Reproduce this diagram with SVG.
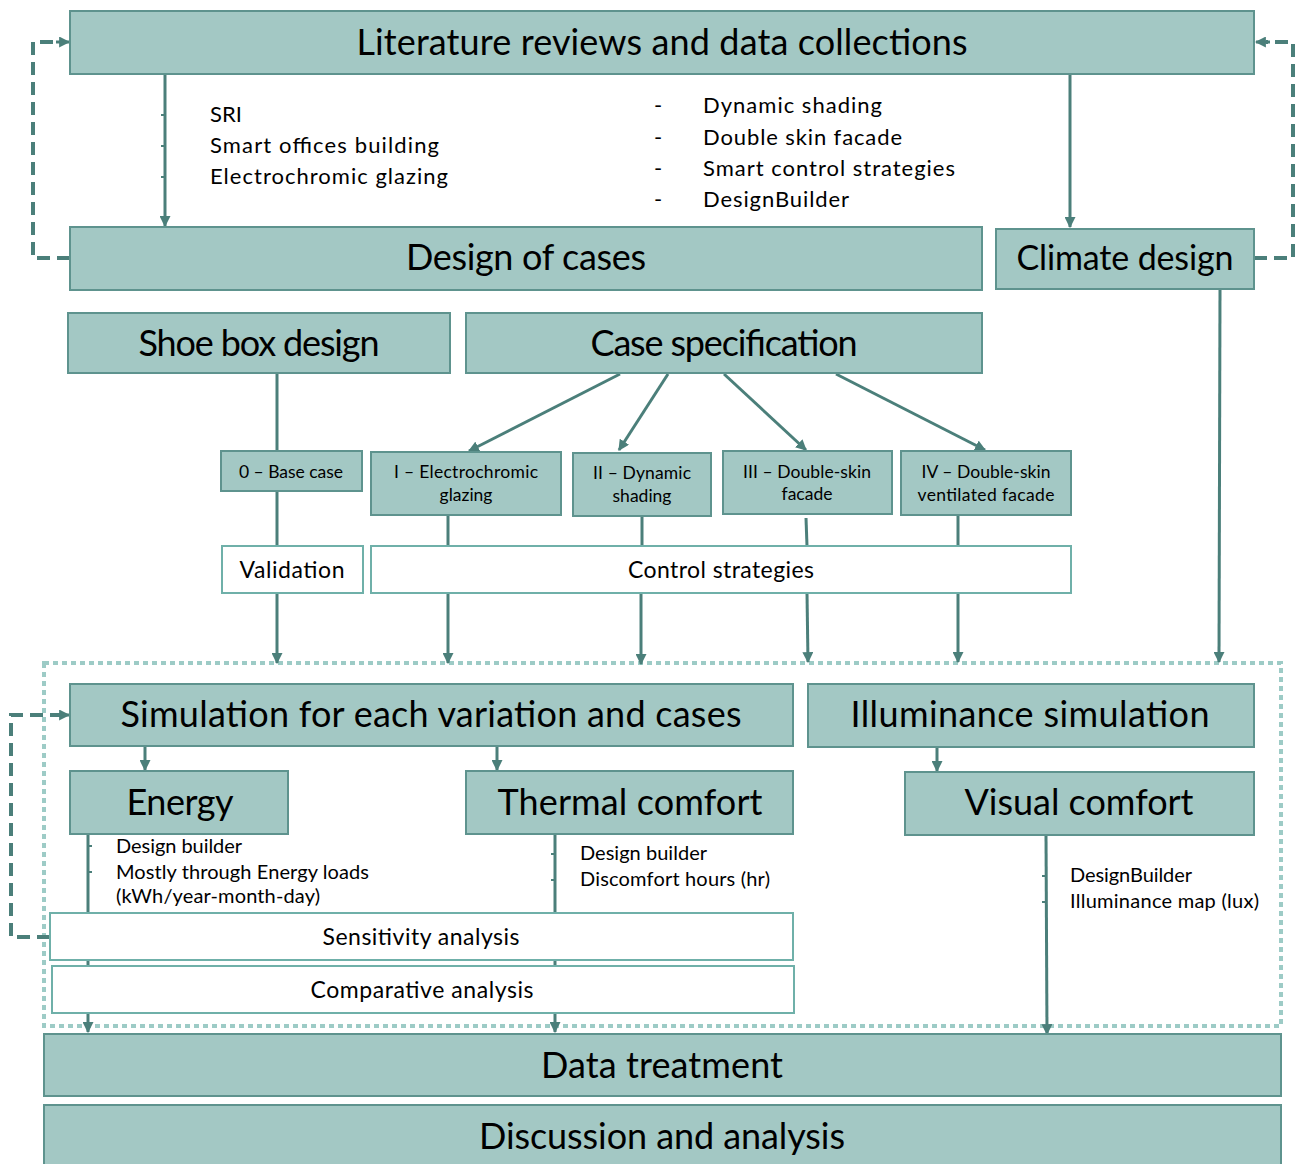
<svg xmlns="http://www.w3.org/2000/svg" width="1299" height="1164" viewBox="0 0 1299 1164">
<defs>
<marker id="ah" viewBox="0 0 10 10" refX="9" refY="5" markerWidth="11" markerHeight="11" markerUnits="userSpaceOnUse" orient="auto">
<path d="M0,0 L10,5 L0,10 z" fill="#4B7F7A"/>
</marker>
<style>
.box{fill:#A3C8C4;stroke:#5E938E;stroke-width:2}
.wbox{fill:#ffffff;stroke:#6FB0A9;stroke-width:2}
.t{font-family:Lato,"Open Sans",sans-serif;fill:#000;text-anchor:middle}
.big{font-size:36px}
.mid{font-size:23px}
.sm{font-size:17.5px}
.note{font-family:Lato,"Open Sans",sans-serif;fill:#000;font-size:22px}
.note2{font-family:Lato,"Open Sans",sans-serif;fill:#000;font-size:20px}
.c{stroke:#4B7F7A;stroke-width:3;fill:none}
.ca{stroke:#4B7F7A;stroke-width:3;fill:none;marker-end:url(#ah)}
.dash{stroke:#4B7F7A;stroke-width:4;fill:none;stroke-dasharray:13 7}
.tick{stroke:#4B7F7A;stroke-width:2}
.dot{stroke:#9DCBC6;stroke-width:4;fill:none;stroke-dasharray:5 4}
</style>
</defs>

<rect class="dot" x="44" y="663" width="1237" height="363"/>

<g id="connectors">
<line class="ca" x1="165" y1="74" x2="165" y2="226"/>
<line class="tick" x1="161" y1="115" x2="166" y2="115"/>
<line class="tick" x1="161" y1="146" x2="166" y2="146"/>
<line class="tick" x1="161" y1="177" x2="166" y2="177"/>
<line class="ca" x1="1070" y1="74" x2="1070" y2="227"/>
<polyline class="dash" points="70,258 33,258 33,42 60,42"/>
<line class="ca" x1="56" y1="42" x2="69" y2="42"/>
<polyline class="dash" points="1254,258 1293,258 1293,42 1266,42"/>
<line class="ca" x1="1270" y1="42" x2="1256" y2="42"/>
<line class="c" x1="277" y1="373" x2="277" y2="451"/>
<line class="c" x1="277" y1="491" x2="277" y2="546"/>
<line class="ca" x1="277" y1="593" x2="277" y2="663"/>
<line class="ca" x1="620" y1="374" x2="469" y2="451"/>
<line class="ca" x1="668" y1="374" x2="619" y2="450"/>
<line class="ca" x1="724" y1="374" x2="806" y2="450"/>
<line class="ca" x1="836" y1="374" x2="985" y2="450"/>
<line class="c" x1="448" y1="515" x2="448" y2="546"/>
<line class="c" x1="642" y1="516" x2="642" y2="546"/>
<line class="c" x1="806" y1="518" x2="807" y2="546"/>
<line class="c" x1="958" y1="515" x2="958" y2="546"/>
<line class="ca" x1="448" y1="593" x2="448" y2="663"/>
<line class="ca" x1="641" y1="593" x2="641" y2="664"/>
<line class="ca" x1="807" y1="593" x2="808" y2="662"/>
<line class="ca" x1="958" y1="593" x2="958" y2="662"/>
<line class="ca" x1="1220" y1="289" x2="1219" y2="662"/>
<line class="ca" x1="145" y1="746" x2="145" y2="770"/>
<line class="ca" x1="497" y1="746" x2="497" y2="770"/>
<line class="ca" x1="937" y1="747" x2="937" y2="771"/>
<line class="ca" x1="88" y1="834" x2="88" y2="1032"/>
<line class="tick" x1="88" y1="846" x2="92" y2="846"/>
<line class="tick" x1="88" y1="872" x2="92" y2="872"/>
<line class="ca" x1="555" y1="834" x2="555" y2="1032"/>
<line class="tick" x1="551" y1="854" x2="555" y2="854"/>
<line class="tick" x1="551" y1="880" x2="555" y2="880"/>
<line class="ca" x1="1046" y1="835" x2="1047" y2="1034"/>
<line class="tick" x1="1042" y1="876" x2="1046" y2="876"/>
<line class="tick" x1="1042" y1="902" x2="1046" y2="902"/>
<polyline class="dash" points="50,937 11,937 11,715 60,715"/>
<line class="ca" x1="56" y1="715" x2="69" y2="715"/>
</g>

<g id="literature"><rect class="box" x="70" y="11" width="1184" height="63"/><text class="t big" x="662" y="55" textLength="611">Literature reviews and data collections</text></g>
<g id="notes-left">
<text class="note" x="210" y="122" textLength="32">SRI</text>
<text class="note" x="210" y="153" textLength="229">Smart offices building</text>
<text class="note" x="210" y="184" textLength="238">Electrochromic glazing</text>
</g>
<g id="notes-right">
<text class="note" x="654" y="113">-</text><text class="note" x="703" y="113" textLength="179">Dynamic shading</text>
<text class="note" x="654" y="145">-</text><text class="note" x="703" y="145" textLength="199">Double skin facade</text>
<text class="note" x="654" y="176">-</text><text class="note" x="703" y="176" textLength="252">Smart control strategies</text>
<text class="note" x="654" y="207">-</text><text class="note" x="703" y="207" textLength="146">DesignBuilder</text>
</g>
<g id="design-cases"><rect class="box" x="70" y="227" width="912" height="63"/><text class="t big" x="526" y="270" textLength="240">Design of cases</text></g>
<g id="climate"><rect class="box" x="996" y="229" width="258" height="60"/><text class="t" style="font-size:34px" x="1125" y="270" textLength="217">Climate design</text></g>
<g id="shoebox"><rect class="box" x="68" y="313" width="382" height="60"/><text class="t big" x="259" y="356" textLength="241">Shoe box design</text></g>
<g id="casespec"><rect class="box" x="466" y="313" width="516" height="60"/><text class="t big" x="724" y="356" textLength="267">Case specification</text></g>
<g id="case0"><rect class="box" x="221" y="451" width="141" height="40"/><text class="t sm" x="291" y="478" textLength="104">0 – Base case</text></g>
<g id="case1"><rect class="box" x="371" y="452" width="190" height="63"/><text class="t sm" x="466" y="478" textLength="144">I – Electrochromic</text><text class="t sm" x="466" y="501">glazing</text></g>
<g id="case2"><rect class="box" x="573" y="453" width="138" height="63"/><text class="t sm" x="642" y="479" textLength="98">II – Dynamic</text><text class="t sm" x="642" y="502">shading</text></g>
<g id="case3"><rect class="box" x="723" y="451" width="169" height="63"/><text class="t sm" x="807" y="478" textLength="128">III – Double-skin</text><text class="t sm" x="807" y="500">facade</text></g>
<g id="case4"><rect class="box" x="901" y="451" width="170" height="64"/><text class="t sm" x="986" y="478" textLength="129">IV – Double-skin</text><text class="t sm" x="986" y="501" textLength="137">ventilated facade</text></g>
<g id="validation"><rect class="wbox" x="222" y="546" width="141" height="47"/><text class="t mid" x="292" y="578" textLength="105">Validation</text></g>
<g id="control"><rect class="wbox" x="371" y="546" width="700" height="47"/><text class="t mid" x="721" y="578" textLength="186">Control strategies</text></g>
<g id="simulation"><rect class="box" x="70" y="684" width="723" height="62"/><text class="t big" x="431" y="727" textLength="621">Simulation for each variation and cases</text></g>
<g id="illuminance"><rect class="box" x="808" y="684" width="446" height="63"/><text class="t big" x="1030" y="727" textLength="359">Illuminance simulation</text></g>
<g id="energy"><rect class="box" x="70" y="771" width="218" height="63"/><text class="t big" x="180" y="815" textLength="107">Energy</text></g>
<g id="thermal"><rect class="box" x="466" y="771" width="327" height="63"/><text class="t big" x="630" y="815" textLength="265">Thermal comfort</text></g>
<g id="visual"><rect class="box" x="905" y="772" width="349" height="63"/><text class="t big" x="1079" y="815" textLength="229">Visual comfort</text></g>
<g id="energy-notes">
<text class="note2" x="116" y="853" textLength="126">Design builder</text>
<text class="note2" x="116" y="879" textLength="253">Mostly through Energy loads</text>
<text class="note2" x="116" y="903" textLength="204">(kWh/year-month-day)</text>
</g>
<g id="thermal-notes">
<text class="note2" x="580" y="860" textLength="127">Design builder</text>
<text class="note2" x="580" y="886" textLength="190">Discomfort hours (hr)</text>
</g>
<g id="visual-notes">
<text class="note2" x="1070" y="882" textLength="122">DesignBuilder</text>
<text class="note2" x="1070" y="908" textLength="189">Illuminance map (lux)</text>
</g>
<g id="sensitivity"><rect class="wbox" x="50" y="913" width="743" height="47"/><text class="t mid" x="421" y="945" textLength="197">Sensitivity analysis</text></g>
<g id="comparative"><rect class="wbox" x="52" y="966" width="742" height="47"/><text class="t mid" x="422" y="998" textLength="223">Comparative analysis</text></g>
<g id="datatreatment"><rect class="box" x="44" y="1034" width="1237" height="62"/><text class="t big" x="662" y="1078" textLength="242">Data treatment</text></g>
<g id="discussion"><rect class="box" x="44" y="1105" width="1237" height="70"/><text class="t big" x="662" y="1149" textLength="366">Discussion and analysis</text></g>
</svg>
